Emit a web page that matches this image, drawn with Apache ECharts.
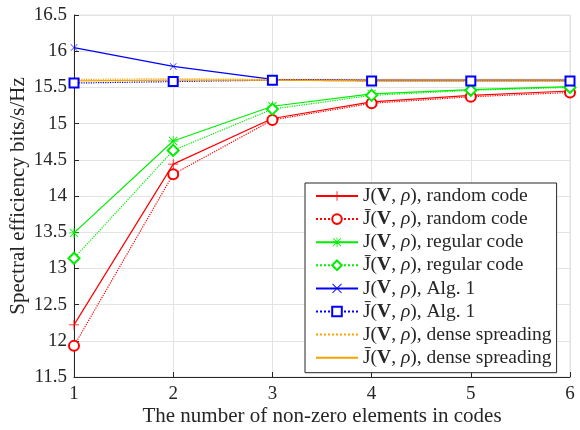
<!DOCTYPE html>
<html><head><meta charset="utf-8">
<script src="https://cdn.jsdelivr.net/npm/echarts@6/dist/echarts.min.js"></script>
<style>html,body{margin:0;padding:0;background:#fff}#c{width:580px;height:430px}</style>
</head><body><div id="c"></div>
<script>
var xValues = [1, 2, 3, 4, 5, 6];
var randomJ = [12.22, 14.44, 15.07, 15.30, 15.39, 15.45];
var randomJbar = [11.93, 14.30, 15.05, 15.28, 15.37, 15.43];
var regularJ = [13.49, 14.76, 15.24, 15.41, 15.47, 15.51];
var regularJbar = [13.14, 14.63, 15.20, 15.39, 15.46, 15.50];
var alg1J = [16.05, 15.79, 15.61, 15.60, 15.60, 15.60];
var alg1Jbar = [15.56, 15.58, 15.60, 15.59, 15.59, 15.59];
var denseJ = [15.61, 15.62, 15.61, 15.61, 15.61, 15.61];
var denseJbar = [15.59, 15.60, 15.60, 15.59, 15.59, 15.59];
var seriesNames = [
  'J(V, ρ), random code',
  'J\u0304(V, ρ), random code ',
  'J(V, ρ), regular code',
  'J\u0304(V, ρ), regular code ',
  'J(V, ρ), Alg. 1',
  'J\u0304(V, ρ), Alg. 1 ',
  'J(V, ρ), dense spreading',
  'J\u0304(V, ρ), dense spreading '
];

function pts(arr){ return xValues.map(function(x,i){ return [x, arr[i]]; }); }
var plusPath = 'path://M4.6,0 h0.8 v4.6 h4.6 v0.8 h-4.6 v4.6 h-0.8 v-4.6 h-4.6 v-0.8 h4.6 z';
var xPath = 'path://M0.6,0 L5,4.4 L9.4,0 L10,0.6 L5.6,5 L10,9.4 L9.4,10 L5,5.6 L0.6,10 L0,9.4 L4.4,5 L0,0.6 z';
var starPath = 'path://M4.6,0 h0.8 v4.6 h4.6 v0.8 h-4.6 v4.6 h-0.8 v-4.6 h-4.6 v-0.8 h4.6 z M1.2,0.6 L5,4.4 L8.8,0.6 L9.4,1.2 L5.6,5 L9.4,8.8 L8.8,9.4 L5,5.6 L1.2,9.4 L0.6,8.8 L4.4,5 L0.6,1.2 z';

function mk(name, data, color, type, symbol, size){
  return {
    name: name, type: 'line', data: pts(data),
    symbol: symbol || 'none', symbolSize: size || 8,
    showSymbol: !!symbol,
    lineStyle: {color: color, width: 1.2, type: type},
    itemStyle: {color: color, borderWidth: 1.2},
    emphasis: {disabled: true}, animation: false, z: 3
  };
}

var legendData = seriesNames.map(function(n, i){
  return i >= 6 ? {name: n, itemStyle: {opacity: 0}} : {name: n};
});

var chart = echarts.init(document.getElementById('c'), null, {renderer: 'canvas'});
var font = 'Liberation Serif';
var lf = 19.5;
chart.setOption({
  animation: false,
  grid: {left: 74, right: 10, top: 15, bottom: 53, show: true, borderColor: '#e3e3e3', borderWidth: 1, outerBoundsMode: 'none', containLabel: false},
  xAxis: {
    type: 'value', min: 1, max: 6, interval: 1,
    name: 'The number of non-zero elements in codes', nameLocation: 'middle', nameGap: 29,
    nameMoveOverlap: false,
    nameTextStyle: {fontFamily: font, fontSize: 21, color: '#262626'},
    axisLine: {lineStyle: {color: '#262626', width: 1}},
    axisTick: {inside: true, length: 5, lineStyle: {color: '#262626'}},
    axisLabel: {fontFamily: font, fontSize: 19, color: '#262626', margin: 8},
    splitLine: {show: true, lineStyle: {color: '#e3e3e3', width: 1}}
  },
  yAxis: {
    type: 'value', min: 11.5, max: 16.5, interval: 0.5,
    name: 'Spectral efficiency bits/s/Hz', nameLocation: 'middle', nameGap: 45,
    nameMoveOverlap: false,
    nameTextStyle: {fontFamily: font, fontSize: 21, color: '#262626'},
    axisLine: {show: true, lineStyle: {color: '#262626', width: 1}},
    axisTick: {show: true, inside: true, length: 5, lineStyle: {color: '#262626'}},
    axisLabel: {fontFamily: font, fontSize: 19, color: '#262626', margin: 7},
    splitLine: {show: true, lineStyle: {color: '#e3e3e3', width: 1}}
  },
  legend: {
    orient: 'vertical', left: 305, top: 183,
    backgroundColor: '#fff', borderColor: '#262626', borderWidth: 1,
    padding: [3, 5, 5, 10], itemWidth: 42, itemHeight: 12, itemGap: 3.1,
    data: legendData,
    textStyle: {fontFamily: font, fontSize: lf, lineHeight: 20, color: '#262626',
      rich: {b: {fontFamily: font, fontSize: lf, lineHeight: 20, fontWeight: 'bold', color: '#262626'},
             i: {fontFamily: font, fontSize: lf, lineHeight: 20, fontStyle: 'italic', color: '#262626'}}},
    formatter: function(n){ return n.trim().replace('V', '{b|V}').replace('ρ', '{i|ρ}'); }
  },
  series: [
    mk(seriesNames[0], randomJ, '#ff0000', 'solid', plusPath, 10),
    mk(seriesNames[1], randomJbar, '#ff0000', 'dotted', 'emptyCircle', 10),
    mk(seriesNames[2], regularJ, '#00ee00', 'solid', starPath, 10),
    mk(seriesNames[3], regularJbar, '#00ee00', 'dotted', 'emptyDiamond', 11),
    mk(seriesNames[4], alg1J, '#0000ff', 'solid', xPath, 7),
    mk(seriesNames[5], alg1Jbar, '#0000ff', 'dotted', 'emptyRect', 9),
    mk(seriesNames[6], denseJ, '#f5a300', 'dotted', null),
    mk(seriesNames[7], denseJbar, '#f5a300', 'solid', null)
  ]
});
</script></body></html>
